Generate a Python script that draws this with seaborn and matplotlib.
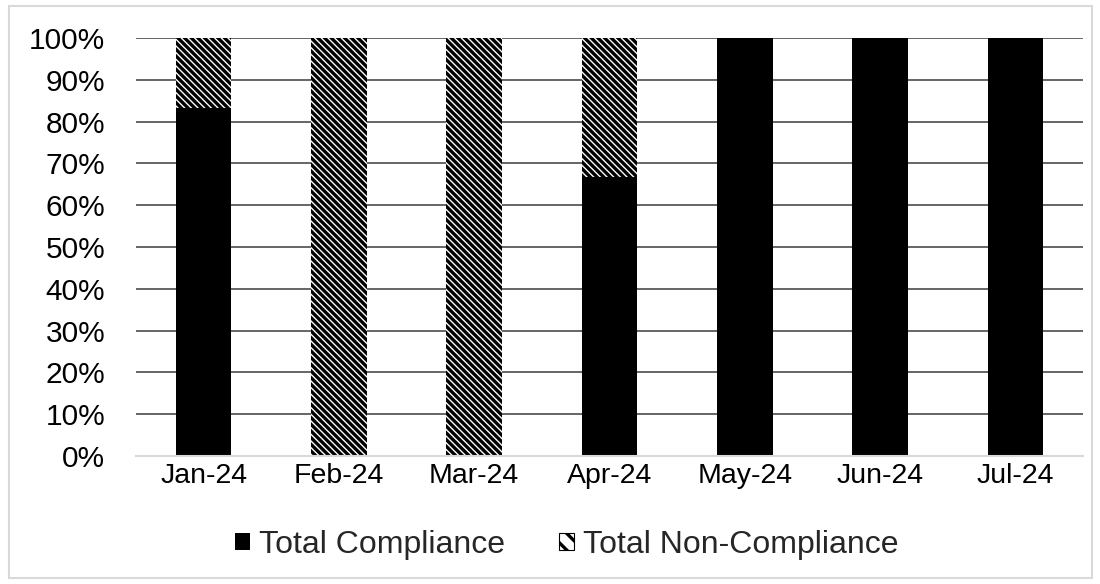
import matplotlib
matplotlib.use("Agg")
import matplotlib.pyplot as plt
from matplotlib.patches import Rectangle
import seaborn as sns
import pandas as pd
import numpy as np

months = ["Jan-24", "Feb-24", "Mar-24", "Apr-24", "May-24", "Jun-24", "Jul-24"]
compliance = [83.3, 0, 0, 66.7, 100, 100, 100]
non_compliance = [16.7, 100, 100, 33.3, 0, 0, 0]
y_ticks = [0, 10, 20, 30, 40, 50, 60, 70, 80, 90, 100]
series_names = ["Total Compliance", "Total Non-Compliance"]

sns.set_theme(style="white")
plt.rcParams['font.family'] = ['Liberation Sans', 'DejaVu Sans']
plt.rcParams['hatch.linewidth'] = 2.4
plt.rcParams['hatch.color'] = 'black'

HATCH = "\\" * 5

W, H = 1100, 584
fig = plt.figure(figsize=(W / 100, H / 100), dpi=100)
fig.patch.set_facecolor("white")
ax = fig.add_axes([136 / W, 1 - 456 / H, (1083 - 136) / W, (456 - 38) / H])

df = pd.DataFrame({"month": months, "comp": compliance, "non": non_compliance})
df["total"] = df["comp"] + df["non"]

bw = 0.41
sns.barplot(data=df, x="month", y="total", color="white", hatch=HATCH,
            edgecolor="black", linewidth=0, width=bw, ax=ax, zorder=2)
sns.barplot(data=df, x="month", y="comp", color="black", edgecolor="black",
            linewidth=0, width=bw, ax=ax, zorder=3)
for p in ax.patches:
    if p.get_facecolor()[0] > 0.5:
        p.set_facecolor("white")

ax.set_xlim(-0.5, len(months) - 0.5)
ax.set_ylim(0, 100)
ax.set_yticks(y_ticks)
ax.set_yticklabels([f"{v}%" for v in y_ticks])
ax.set_xlabel("")
ax.set_ylabel("")
ax.set_axisbelow(True)
ax.yaxis.grid(True, color="#595959", linewidth=1.3)
ax.xaxis.grid(False)

for s in ["left", "right", "top"]:
    ax.spines[s].set_visible(False)
ax.spines["bottom"].set_color("#d9d9d9")
ax.spines["bottom"].set_linewidth(1.5)
ax.spines["bottom"].set_zorder(4)

ax.tick_params(axis="y", length=0, pad=22, labelsize=21.5, colors="black")
ax.tick_params(axis="x", which="major", length=0, pad=5, labelsize=20.5, colors="black")
ax.set_xticks(np.arange(-0.5, len(months), 1.0), minor=True)
ax.tick_params(axis="x", which="minor", length=6, width=1.5, color="#d9d9d9", direction="out")

handles = [Rectangle((0, 0), 1, 1, facecolor="black", edgecolor="black", linewidth=0),
           Rectangle((0, 0), 1, 1, facecolor="white", edgecolor="black", linewidth=0.8, hatch="\\\\")]
fig.legend(handles, series_names, loc="center", bbox_to_anchor=(0.5155, 1 - 545 / H),
           ncol=2, frameon=False, fontsize=23, handlelength=0.45, handleheight=0.45,
           handletextpad=0.3, columnspacing=1.7)

fig.add_artist(Rectangle((9 / W, 1 - 578 / H), (1092 - 9) / W, (578 - 6) / H,
                         transform=fig.transFigure, fill=False,
                         edgecolor="#d9d9d9", linewidth=1.5))

fig.savefig("out.png", dpi=100, facecolor="white")
